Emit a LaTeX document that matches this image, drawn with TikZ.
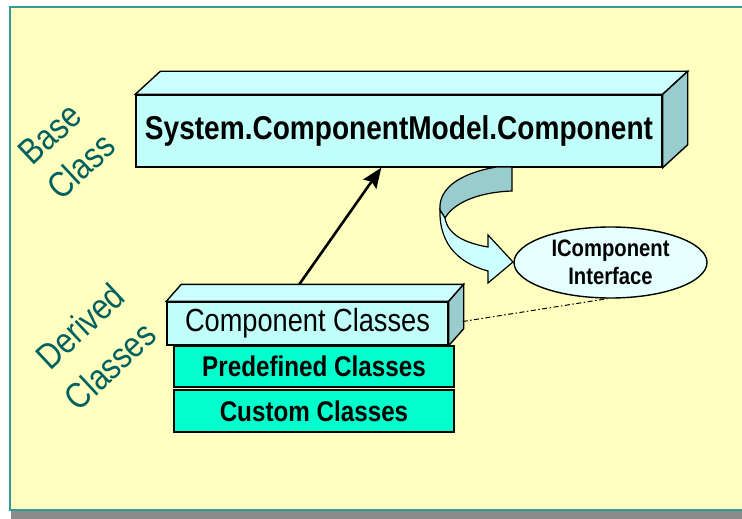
\documentclass[tikz,border=0pt]{standalone}
\usepackage{fontspec}
\setmainfont{Liberation Sans}[FakeStretch=0.85]
\usetikzlibrary{arrows.meta,shapes.geometric,calc}

\definecolor{slidebg}{RGB}{255,255,192}
\definecolor{frameline}{RGB}{51,153,153}
\definecolor{shadowgrey}{RGB}{140,140,140}
\definecolor{boxfront}{RGB}{192,255,250}
\definecolor{boxtop}{RGB}{204,255,255}
\definecolor{boxside}{RGB}{153,204,204}
\definecolor{layerfill}{RGB}{0,255,204}
\definecolor{ellfill}{RGB}{230,255,255}
\definecolor{labelteal}{RGB}{0,96,96}

\tikzset{
  edge/.style={draw=black, line width=1.4pt, line join=miter},
  frontface/.style={edge, fill=boxfront, rectangle, inner sep=0pt},
  topface/.style={edge, fill=boxtop},
  sideface/.style={edge, fill=boxside},
  layer/.style={edge, fill=layerfill, rectangle, inner sep=0pt,
    minimum width=280pt, font=\bfseries\fontsize{28.5}{30}\selectfont},
  sidelabel/.style={text=labelteal, rotate=43, inner sep=0pt,
    font=\fontsize{36}{36}\selectfont},
  iface/.style={edge, ellipse, fill=ellfill, inner sep=0pt, align=center,
    minimum width=193pt, minimum height=71pt,
    font=\bfseries\fontsize{23.8}{28}\selectfont},
  inherit/.style={line width=2.6pt, -{Stealth[length=20pt,width=16pt,inset=3pt]}},
  implements/.style={line width=1pt, dash pattern=on 5pt off 2.5pt on 1.5pt off 2.5pt}
}

\begin{document}
\begin{tikzpicture}[x=1pt,y=-1pt]
\useasboundingbox (0,0) rectangle (742,519);
\clip (0,0) rectangle (742,519);

% slide background with shadow
\fill[shadowgrey] (11,511) rectangle (760,519);
\filldraw[draw=frameline, line width=1.5pt, fill=slidebg] (10,7) rectangle (770,510);

% side captions
\node[sidelabel] (lbase) at (50,134) {Base};
\node[sidelabel] (lclass) at (81,166) {Class};
\node[sidelabel] (lderived) at (80,326) {Derived};
\node[sidelabel] (lclasses) at (110,366) {Classes};

% base class block
\node[frontface, minimum width=526pt, minimum height=72pt,
  font=\bfseries\fontsize{33}{36}\selectfont] (sys) at (399,131)
  {System.ComponentModel.Component};
\filldraw[topface] (sys.north west) -- ++(25,-23) -- ($(sys.north east)+(25,-23)$) -- (sys.north east) -- cycle;
\filldraw[sideface] (sys.north east) -- ++(25,-23) -- ($(sys.south east)+(25,-23)$) -- (sys.south east) -- cycle;

% curved block arrow towards the interface
\filldraw[sideface, line width=1.2pt] (497,167) -- (512,167) -- (512,191)
  .. controls (482,192) and (455,201) .. (445,218) -- (440,210)
  .. controls (438,186) and (465,172) .. (497,167) -- cycle;
\filldraw[topface, line width=1.2pt] (440,210)
  .. controls (439,247) and (462,264) .. (488,271) -- (488,283) -- (513,262)
  -- (488,235) -- (488,247)
  .. controls (465,243) and (448,235) .. (445,218) -- cycle;

% interface ellipse
\node[iface] (icomp) at (610.5,262.5) {IComponent\\Interface};

% derived class stack
\node[layer, minimum height=41pt] (pre) at (314,366.5) {Predefined Classes};
\node[layer, minimum height=42pt] (cust) at (314,411) {Custom Classes};
\node[frontface, minimum width=281pt, minimum height=43pt,
  font=\fontsize{32}{34}\selectfont] (cc) at (307.5,323.5) {Component Classes};
\filldraw[topface] (cc.north west) -- ++(15,-17) -- ($(cc.north east)+(15,-17)$) -- (cc.north east) -- cycle;
\filldraw[sideface] (cc.north east) -- ++(15,-17) -- ($(cc.south east)+(15,-17)$) -- (cc.south east) -- cycle;

% connectors
\coordinate (upfoot) at ($(cc.north west)+(133,-17)$);
\coordinate (uptip) at ($(sys.south west)+(246,0)$);
\draw[inherit] (upfoot) -- (uptip);
\coordinate (ccside) at ($(cc.east)+(14,-2)$);
\draw[implements] (ccside) -- (icomp.265);
\end{tikzpicture}
\end{document}
